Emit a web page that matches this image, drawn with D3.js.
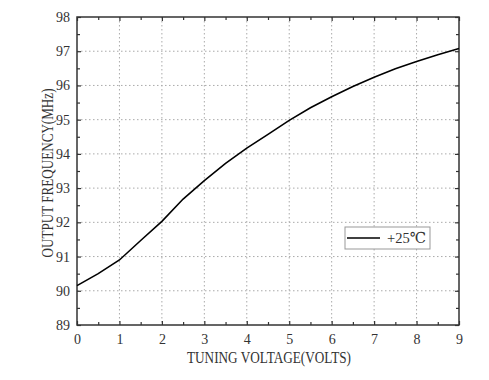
<!DOCTYPE html>
<html>
<head>
<meta charset="utf-8">
<script src="https://cdn.jsdelivr.net/npm/d3@7"></script>
<style>
  body { margin: 0; background: #fff; }
  text { font-family: "Liberation Serif", "DejaVu Serif", serif; fill: #333; }
</style>
</head>
<body>
<script>
// data
var voltage = [0, 0.5, 1, 1.5, 2, 2.5, 3, 3.5, 4, 4.5, 5, 5.5, 6, 6.5, 7, 7.5, 8, 8.5, 9];
var freq = [90.15, 90.5, 90.9, 91.47, 92.03, 92.68, 93.22, 93.72, 94.17, 94.57, 94.98, 95.35, 95.67, 95.97, 96.24, 96.49, 96.7, 96.9, 97.08];
var xTicks = [0, 1, 2, 3, 4, 5, 6, 7, 8, 9];
var yTicks = [89, 90, 91, 92, 93, 94, 95, 96, 97, 98];
var legendLabel = "+25\u2103";

var margin = {top: 17, right: 30, bottom: 55, left: 77},
    width = 489 - margin.left - margin.right,
    height = 380 - margin.top - margin.bottom;

var x = d3.scaleLinear().domain([0, 9]).range([0, width]);
var y = d3.scaleLinear().domain([89, 98]).range([height, 0]);

var svg = d3.select("body").append("svg")
    .attr("width", 489)
    .attr("height", 380)
  .append("g")
    .attr("transform", "translate(" + margin.left + "," + margin.top + ")");

// dotted grid
svg.append("g").selectAll("line")
    .data(xTicks.slice(1, -1))
  .enter().append("line")
    .attr("x1", function(d) { return x(d); })
    .attr("x2", function(d) { return x(d); })
    .attr("y1", 0).attr("y2", height)
    .attr("stroke", "#aaa").attr("stroke-dasharray", "1.5,2.5");
svg.append("g").selectAll("line")
    .data(yTicks.slice(1, -1))
  .enter().append("line")
    .attr("y1", function(d) { return y(d); })
    .attr("y2", function(d) { return y(d); })
    .attr("x1", 0).attr("x2", width)
    .attr("stroke", "#aaa").attr("stroke-dasharray", "1.5,2.5");

var halfX = d3.range(0.5, 9, 1);
var halfY = d3.range(89.5, 98, 1);

function styleAxis(g) {
  g.select(".domain").remove();
  g.selectAll("line").attr("stroke", "#333").attr("stroke-width", 1.2);
  g.selectAll("text").attr("font-size", 14).attr("fill", "#333")
    .style("font-family", "'Liberation Serif', serif");
}

// bottom
svg.append("g").attr("transform", "translate(0," + height + ")")
    .call(d3.axisBottom(x).tickValues(xTicks).tickSize(-4).tickPadding(9).tickFormat(d3.format("d")))
    .call(styleAxis);
svg.append("g").attr("transform", "translate(0," + height + ")")
    .call(d3.axisBottom(x).tickValues(halfX).tickSize(-3).tickFormat(""))
    .call(styleAxis);
// top
svg.append("g")
    .call(d3.axisTop(x).tickValues(xTicks).tickSize(-4).tickFormat(""))
    .call(styleAxis);
svg.append("g")
    .call(d3.axisTop(x).tickValues(halfX).tickSize(-3).tickFormat(""))
    .call(styleAxis);
// left
svg.append("g")
    .call(d3.axisLeft(y).tickValues(yTicks).tickSize(-4).tickPadding(7).tickFormat(d3.format("d")))
    .call(styleAxis);
svg.append("g")
    .call(d3.axisLeft(y).tickValues(halfY).tickSize(-3).tickFormat(""))
    .call(styleAxis);
// right
svg.append("g").attr("transform", "translate(" + width + ",0)")
    .call(d3.axisRight(y).tickValues(yTicks).tickSize(-4).tickFormat(""))
    .call(styleAxis);
svg.append("g").attr("transform", "translate(" + width + ",0)")
    .call(d3.axisRight(y).tickValues(halfY).tickSize(-3).tickFormat(""))
    .call(styleAxis);

// frame
svg.append("rect")
    .attr("width", width).attr("height", height)
    .attr("fill", "none").attr("stroke", "#333").attr("stroke-width", 1.5);

// curve
var data = voltage.map(function(v, i) { return {v: v, f: freq[i]}; });
var valueline = d3.line()
    .x(function(d) { return x(d.v); })
    .y(function(d) { return y(d.f); });
svg.append("path")
    .datum(data)
    .attr("d", valueline)
    .attr("fill", "none")
    .attr("stroke", "#000")
    .attr("stroke-width", 1.6);

// legend
var lg = svg.append("g").attr("transform", "translate(" + (345 - margin.left) + "," + (227 - margin.top) + ")");
lg.append("rect").attr("width", 85).attr("height", 22)
    .attr("fill", "#fff").attr("stroke", "#999").attr("stroke-width", 1);
lg.append("line").attr("x1", 2).attr("x2", 35).attr("y1", 11).attr("y2", 11)
    .attr("stroke", "#000").attr("stroke-width", 1.6);
lg.append("text").attr("x", 42).attr("y", 16).attr("font-size", 15)
    .attr("textLength", 39).attr("lengthAdjust", "spacingAndGlyphs")
    .text(legendLabel);

// axis titles
svg.append("text")
    .attr("x", width / 2 + 1).attr("y", 363 - margin.top)
    .attr("text-anchor", "middle").attr("font-size", 16.5)
    .attr("textLength", 164).attr("lengthAdjust", "spacingAndGlyphs")
    .text("TUNING VOLTAGE(VOLTS)");
svg.append("text")
    .attr("transform", "translate(" + (53 - margin.left) + "," + (173 - margin.top) + ") rotate(-90)")
    .attr("text-anchor", "middle").attr("font-size", 16.5)
    .attr("textLength", 169).attr("lengthAdjust", "spacingAndGlyphs")
    .text("OUTPUT FREQUENCY(MHz)");
</script>
</body>
</html>
